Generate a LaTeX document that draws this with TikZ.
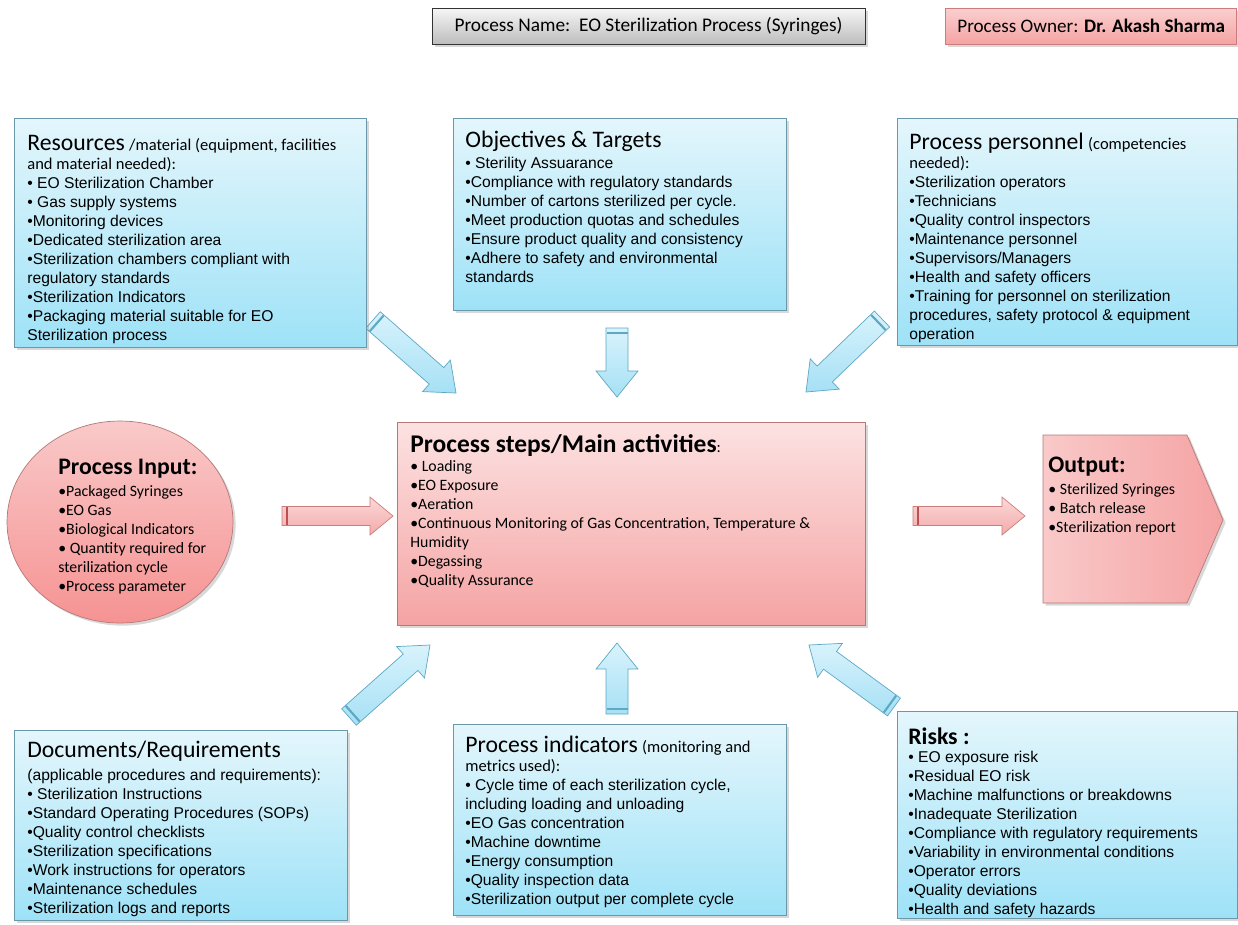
\documentclass[tikz,border=0pt]{standalone}
\usepackage{fontspec}
\setmainfont{Liberation Sans}
\newfontfamily\calibri{Carlito}
\usetikzlibrary{calc,shapes.geometric,shadows}

\definecolor{bluetop}{HTML}{E4F6FC}
\definecolor{bluebot}{HTML}{9EE2F7}
\definecolor{blueline}{HTML}{6A98AA}
\definecolor{pinktop}{HTML}{FCE2E2}
\definecolor{pinkbot}{HTML}{F5A3A3}
\definecolor{pinkline}{HTML}{B87878}
\definecolor{arrowtop}{HTML}{D8F3FC}
\definecolor{arrowbot}{HTML}{A6E0F5}
\definecolor{arrowline}{HTML}{5EA8C4}
\definecolor{parrowtop}{HTML}{FBD9D9}
\definecolor{parrowbot}{HTML}{F3AAAA}
\definecolor{parrowline}{HTML}{CD7C7C}
\definecolor{stripered}{HTML}{C0504D}
\definecolor{greytop}{HTML}{F6F6F6}
\definecolor{greybot}{HTML}{BDBDBD}

\newcommand{\boxhead}[1]{{\calibri\fontsize{13.5}{15}\selectfont #1}}
\newcommand{\boldhead}[1]{{\calibri\bfseries\fontsize{13.5}{15}\selectfont #1}}
\newcommand{\smallcal}[1]{{\calibri\fontsize{9.4}{11}\selectfont #1}}

\begin{document}
\begin{tikzpicture}[x=0.02cm, y=-0.02cm,
    shade/.style={drop shadow={shadow xshift=1.5pt, shadow yshift=-1.5pt, opacity=0.3}},
    bluebox/.style={shade, draw=blueline, top color=bluetop, bottom color=bluebot, inner sep=0pt},
    pinkbox/.style={shade, draw=pinkline, top color=pinktop, bottom color=pinkbot, inner sep=0pt},
    body/.style={inner sep=0pt, anchor=north west, align=left, font=\fontsize{8.9}{10.8}\selectfont},
    cbody/.style={inner sep=0pt, anchor=north west, align=left, font=\calibri\fontsize{9}{10.8}\selectfont},
    bluearrow/.style={draw=arrowline, top color=arrowtop, bottom color=arrowbot},
    pinkarrow/.style={draw=parrowline, top color=parrowtop, bottom color=parrowbot},
    stripe/.style={line width=1.2pt}]

  \useasboundingbox[fill=white] (0,0) rectangle (1238,924);

  % Title boxes
  \node[shade, draw=black!80, top color=greytop, bottom color=greybot,
        minimum width=8.66cm, minimum height=0.72cm, font=\calibri\fontsize{11}{13}\selectfont]
        (pname) at (648.5,26) {Process Name:\ \ EO Sterilization Process (Syringes)};
  \node[shade, draw=parrowline, top color=pinktop!70!pinkbot, bottom color=pinkbot,
        minimum width=5.82cm, minimum height=0.72cm] (powner) at (1090.5,26) {};
  \node[anchor=west, inner sep=0pt, font=\calibri\fontsize{10.9}{13}\selectfont]
        (pownertext) at (957,26) {Process Owner: \textbf{Dr. Akash Sharma}};

  % Arrow ends
  \coordinate (resT)  at (373,320); \coordinate (resH)  at (456,393);
  \coordinate (objT)  at (617,328); \coordinate (objH)  at (617,397);
  \coordinate (perT)  at (882,319); \coordinate (perH)  at (806,392);
  \coordinate (docT)  at (349,717); \coordinate (docH)  at (430,645);
  \coordinate (indT)  at (617,714); \coordinate (indH)  at (617,643);
  \coordinate (riskT) at (894,707); \coordinate (riskH) at (809,645);
  \coordinate (inT)   at (282,516); \coordinate (inH)   at (393,516);
  \coordinate (outT)  at (913,516); \coordinate (outH)  at (1025,516);

  % Blue block arrows
  \foreach \t/\h in {resT/resH, objT/objH, perT/perH, docT/docH, indT/indH, riskT/riskH} {
    \coordinate (hb) at ($(\h)!0.52cm!(\t)$);
    \coordinate (st) at ($(\t)!0.1cm!(\h)$);
    \draw[bluearrow] ($(\t)!0.22cm!90:(\h)$) -- ($(hb)!0.22cm!90:(\h)$) -- ($(hb)!0.42cm!90:(\h)$)
      -- (\h) -- ($(hb)!0.42cm!-90:(\h)$) -- ($(hb)!0.22cm!-90:(\h)$) -- ($(\t)!0.22cm!-90:(\h)$) -- cycle;
    \draw[stripe, arrowline] ($(st)!0.21cm!90:(\h)$) -- ($(st)!0.21cm!-90:(\h)$);
  }

  % Pink block arrows
  \foreach \t/\h in {inT/inH, outT/outH} {
    \coordinate (hb) at ($(\h)!0.46cm!(\t)$);
    \coordinate (st) at ($(\t)!0.1cm!(\h)$);
    \draw[pinkarrow] ($(\t)!0.19cm!90:(\h)$) -- ($(hb)!0.19cm!90:(\h)$) -- ($(hb)!0.38cm!90:(\h)$)
      -- (\h) -- ($(hb)!0.38cm!-90:(\h)$) -- ($(hb)!0.19cm!-90:(\h)$) -- ($(\t)!0.19cm!-90:(\h)$) -- cycle;
    \draw[stripe, stripered] ($(st)!0.18cm!90:(\h)$) -- ($(st)!0.18cm!-90:(\h)$);
  }

  % Resources
  \node[bluebox, minimum width=7.04cm, minimum height=4.58cm] (res) at (190,232.5) {};
  \node[body] (restext) at (27,135) {\boxhead{Resources} \smallcal{/material (equipment, facilities}\\
    \smallcal{and material needed):}\\
    • EO Sterilization Chamber\\
    • Gas supply systems\\
    •Monitoring devices\\
    •Dedicated sterilization area\\
    •Sterilization chambers compliant with\\
    regulatory standards\\
    •Sterilization Indicators\\
    •Packaging material suitable for EO\\
    Sterilization process};

  % Objectives
  \node[bluebox, minimum width=6.66cm, minimum height=3.84cm] (obj) at (619.5,214) {};
  \node[body] (objtext) at (465,131) {\boxhead{Objectives \& Targets}\\[1pt]
    • Sterility Assuarance\\
    •Compliance with regulatory standards\\
    •Number of cartons sterilized per cycle.\\
    •Meet production quotas and schedules\\
    •Ensure product quality and consistency\\
    •Adhere to safety and environmental\\
    standards};

  % Personnel
  \node[bluebox, minimum width=6.8cm, minimum height=4.54cm] (pers) at (1067,231.5) {};
  \node[body] (perstext) at (909,133) {\boxhead{Process personnel} \smallcal{(competencies}\\
    \smallcal{needed):}\\
    •Sterilization operators\\
    •Technicians\\
    •Quality control inspectors\\
    •Maintenance personnel\\
    •Supervisors/Managers\\
    •Health and safety officers\\
    •Training for personnel on sterilization\\
    procedures, safety protocol \& equipment\\
    operation};

  % Process input
  \node[ellipse, shade, draw=pinkline, top color=pinktop!60!pinkbot, bottom color=pinkbot!90!red,
        minimum width=4.52cm, minimum height=4.04cm, inner sep=0pt] (input) at (120,522) {};
  \node[cbody] (inputtext) at (58,459) {\boldhead{Process Input:}\\[1.5pt]
    •Packaged Syringes\\
    •EO Gas\\
    •Biological Indicators\\
    • Quantity required for\\
    sterilization cycle\\
    •Process parameter};

  % Process steps
  \node[pinkbox, minimum width=9.36cm, minimum height=4.06cm] (steps) at (631,523.5) {};
  \node[cbody] (stepstext) at (410,434) {{\calibri\bfseries\fontsize{14.5}{16}\selectfont Process steps/Main activities}:\\
    • Loading\\
    •EO Exposure\\
    •Aeration\\
    •Continuous Monitoring of Gas Concentration, Temperature \&\\
    Humidity\\
    •Degassing\\
    •Quality Assurance};

  % Output
  \draw[shade, draw=pinkline, left color=pinktop!60!pinkbot, right color=pinkbot]
    (1043,435) -- (1187,435) -- (1223,520) -- (1187,603) -- (1043,603) -- cycle;
  \node[cbody] (outtext) at (1048,457) {\boldhead{Output:}\\[1.5pt]
    • Sterilized Syringes\\
    • Batch release\\
    •Sterilization report};

  % Documents
  \node[bluebox, minimum width=6.66cm, minimum height=3.8cm] (docs) at (180.5,825) {};
  \node[body] (docstext) at (27,741) {\boxhead{Documents/Requirements}\\[2pt]
    (applicable procedures and requirements):\\
    • Sterilization Instructions\\
    •Standard Operating Procedures (SOPs)\\
    •Quality control checklists\\
    •Sterilization specifications\\
    •Work instructions for operators\\
    •Maintenance schedules\\
    •Sterilization logs and reports};

  % Indicators
  \node[bluebox, minimum width=6.66cm, minimum height=3.82cm] (ind) at (619.5,819.5) {};
  \node[body] (indtext) at (465,736) {\boxhead{Process indicators} \smallcal{(monitoring and}\\
    \smallcal{metrics used):}\\
    • Cycle time of each sterilization cycle,\\
    including loading and unloading\\
    •EO Gas concentration\\
    •Machine downtime\\
    •Energy consumption\\
    •Quality inspection data\\
    •Sterilization output per complete cycle};

  % Risks
  \node[bluebox, minimum width=6.8cm, minimum height=4.14cm] (risks) at (1067,814.5) {};
  \node[body] (riskstext) at (908,727) {\boldhead{Risks :}\\
    • EO exposure risk\\
    •Residual EO risk\\
    •Machine malfunctions or breakdowns\\
    •Inadequate Sterilization\\
    •Compliance with regulatory requirements\\
    •Variability in environmental conditions\\
    •Operator errors\\
    •Quality deviations\\
    •Health and safety hazards};
\end{tikzpicture}
\end{document}
